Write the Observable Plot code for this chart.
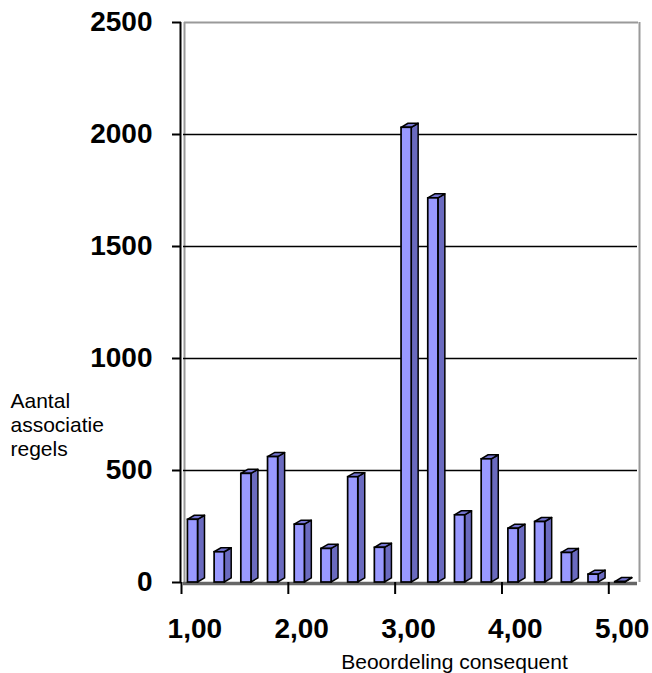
<!DOCTYPE html>
<html>
<head>
<meta charset="utf-8">
<script src="https://cdn.jsdelivr.net/npm/d3@7"></script>
<script src="https://cdn.jsdelivr.net/npm/@observablehq/plot@0.6"></script>
<style>
  html, body { margin: 0; padding: 0; background: #fff; }
  #chart svg { display: block; }
</style>
</head>
<body>
<div id="chart"></div>
<script>
// Score categories (Dutch decimal comma) and number of association rules per score
const categories = ["1,00", "1,25", "1,50", "1,75", "2,00", "2,25", "2,50", "2,75", "3,00",
                    "3,25", "3,50", "3,75", "4,00", "4,25", "4,50", "4,75", "5,00"];
const counts = [280, 135, 485, 560, 258, 150, 470, 155, 2030, 1715, 300, 550, 240, 270, 132, 35, 2];
const yTicks = [0, 500, 1000, 1500, 2000, 2500];
const xLabelIndex = [0, 4, 8, 12, 16];

const yTitle = "Aantal\nassociatie\nregels";
const xTitle = "Beoordeling consequent";

// 3D column geometry, in category units (x) and count units (y)
const front0 = 0.24, front1 = 0.62; // front face within a category slot
const depthX = 0.26;                 // receding depth, horizontal
const depthY = 18;                   // receding depth, vertical

const bars = counts.map((v, i) => ({i, v, x1: i + front0, x2: i + front1}));

// side faces (parallelograms) as areas
const sides = bars.flatMap(b => [
  {k: b.i, x: b.x2, y1: 0, y2: b.v},
  {k: b.i, x: b.x2 + depthX, y1: depthY, y2: b.v + depthY}
]);
// top lids as areas
const tops = bars.flatMap(b => [
  {k: b.i, x: b.x1, y1: b.v, y2: b.v},
  {k: b.i, x: b.x1 + depthX, y1: b.v, y2: b.v + depthY},
  {k: b.i, x: b.x2, y1: b.v, y2: b.v + depthY},
  {k: b.i, x: b.x2 + depthX, y1: b.v + depthY, y2: b.v + depthY}
]);

const font = "'Liberation Sans', Arial, Helvetica, sans-serif";

const chart = Plot.plot({
  width: 652,
  height: 673,
  marginLeft: 181,
  marginRight: 17,
  marginTop: 22,
  marginBottom: 91,
  style: {fontFamily: font, background: "#fff", color: "#000"},
  x: {type: "linear", domain: [0, categories.length]},
  y: {domain: [0, 2500]},
  marks: [
    // back wall
    Plot.ruleY([2500], {stroke: "#9a9a9a", strokeWidth: 2, dx: 3}),
    Plot.ruleX([0], {y1: 0, y2: 2500, stroke: "#9a9a9a", strokeWidth: 2, dx: 3}),
    Plot.ruleX([categories.length], {y1: 0, y2: 2500, stroke: "#9a9a9a", strokeWidth: 2, dx: 4}),
    Plot.ruleY(yTicks.filter(t => t > 0 && t < 2500), {stroke: "#000", strokeWidth: 1.6, dx: 2}),
    // floor
    Plot.ruleY([0], {stroke: "#666", strokeWidth: 3.5, dy: 1, dx: 2}),
    // columns
    Plot.areaY(sides, {x: "x", y1: "y1", y2: "y2", z: "k", fill: "#6a6abf", stroke: "#000", strokeWidth: 1.5, strokeLinejoin: "round", curve: "linear"}),
    Plot.areaY(tops, {x: "x", y1: "y1", y2: "y2", z: "k", fill: "#7474d0", stroke: "#000", strokeWidth: 1.5, strokeLinejoin: "round", curve: "linear"}),
    Plot.rectY(bars, {x1: "x1", x2: "x2", y1: 0, y2: "v", fill: "#9999ff", stroke: "#000", strokeWidth: 1.7}),
    // axes
    Plot.ruleX([0], {y1: 0, y2: 2500, stroke: "#000", strokeWidth: 2, dx: -1}),
    Plot.axisY({
      ticks: yTicks, tickSize: 9, tickPadding: 20, strokeWidth: 2,
      tickFormat: d => String(d),
      fontSize: 28, fontWeight: "bold", label: null
    }),
    Plot.axisX({
      ticks: xLabelIndex, tickSize: 12, strokeWidth: 2, tickFormat: () => "", label: null
    }),
    Plot.axisX({
      ticks: xLabelIndex.map(i => i + 0.5), tickSize: 0, tickPadding: 36,
      tickFormat: d => categories[Math.floor(d)],
      fontSize: 28, fontWeight: "bold", label: null
    }),
    // axis titles
    Plot.text([yTitle], {
      frameAnchor: "top-left", dx: -171, dy: 402, textAnchor: "start",
      lineAnchor: "middle", lineHeight: 1.15, fontSize: 21
    }),
    Plot.text([xTitle], {
      frameAnchor: "bottom", dx: 46, dy: 80, lineAnchor: "middle", fontSize: 21
    })
  ]
});

document.getElementById("chart").append(chart);
</script>
</body>
</html>
